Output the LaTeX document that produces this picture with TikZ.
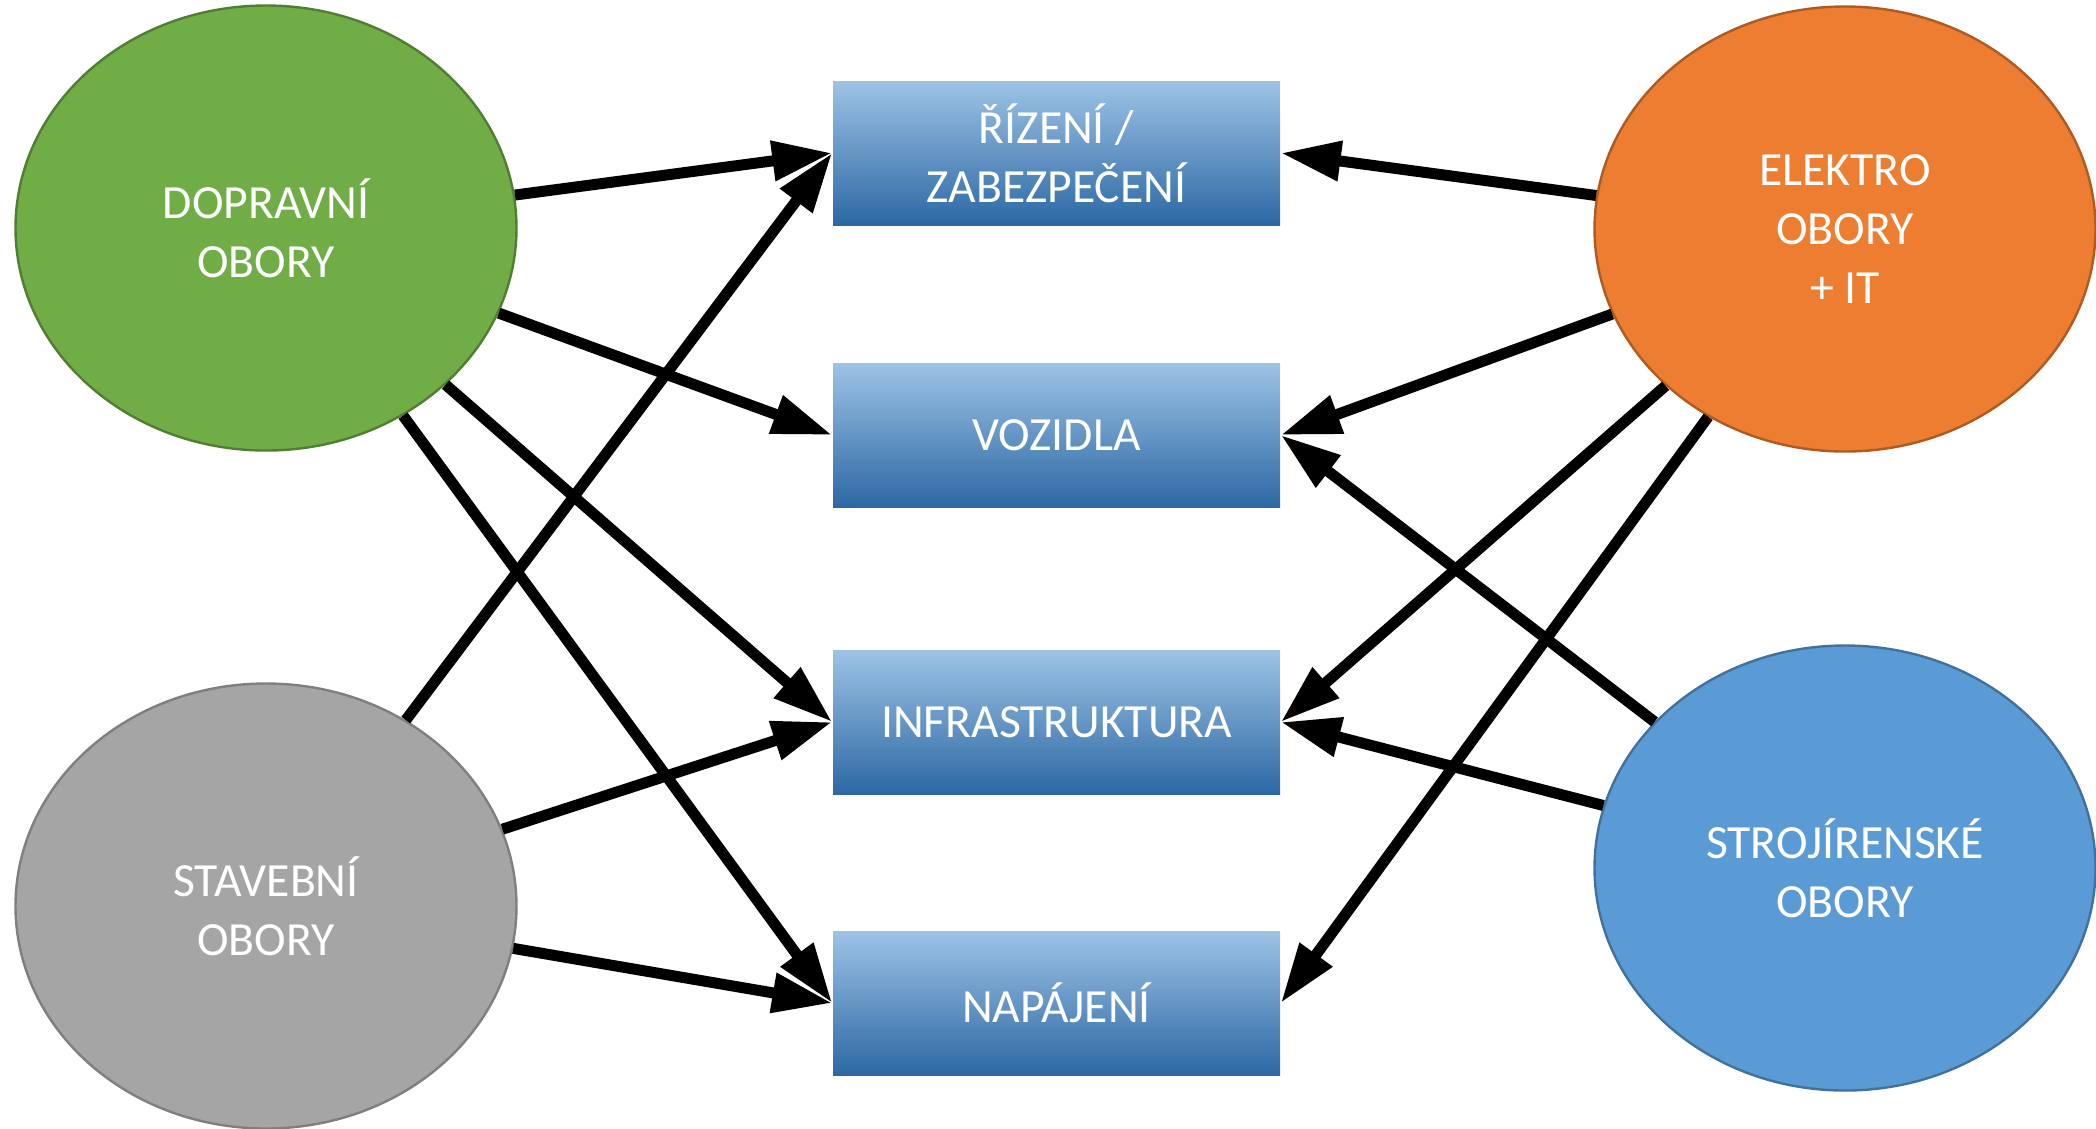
\documentclass[tikz,border=0pt]{standalone}
\usepackage{fontspec}
\setmainfont{Carlito}
\usetikzlibrary{shapes.geometric, arrows.meta}
\definecolor{greenfill}{HTML}{70AD47}
\definecolor{greenline}{HTML}{507E32}
\definecolor{grayfill}{HTML}{A5A5A5}
\definecolor{grayline}{HTML}{7F7F7F}
\definecolor{orangefill}{HTML}{ED7D31}
\definecolor{orangeline}{HTML}{AE5A21}
\definecolor{bluefill}{HTML}{5B9BD5}
\definecolor{blueline}{HTML}{41719C}
\definecolor{boxtop}{HTML}{9DC3E6}
\definecolor{boxmid}{HTML}{5B9BD5}
\definecolor{boxbot}{HTML}{2C68A3}
\begin{document}
\begin{tikzpicture}[x=0.25pt, y=-0.25pt,
		label text/.style={text=white, align=center, font=\fontsize{11.9}{14.8}\selectfont},
		field/.style={ellipse, label text, line width=0.6pt, inner sep=0pt, minimum width=125.25pt, minimum height=111.25pt},
		area/.style={rectangle, label text, inner sep=0pt, minimum width=111.75pt, minimum height=36pt, top color=boxtop, middle color=boxmid, bottom color=boxbot},
		link/.style={-{Triangle[length=15pt, width=9.5pt]}, line width=2.75pt}]
		\useasboundingbox (0, 0) rectangle (2096, 1128);
		% obory
		\node[field, fill=greenfill, draw=greenline] (doprava) at (266, 228) {DOPRAVNÍ\\OBORY};
		\node[field, fill=grayfill, draw=grayline] (stavba) at (266, 906) {STAVEBNÍ\\OBORY};
		\node[field, fill=orangefill, draw=orangeline] (elektro) at (1845, 229) {ELEKTRO\\OBORY\\+ IT};
		\node[field, fill=bluefill, draw=blueline] (stroje) at (1845, 868) {STROJÍRENSKÉ\\OBORY};
		% oblasti
		\node[area] (rizeni) at (1056.5, 153) {ŘÍZENÍ /\\ZABEZPEČENÍ};
		\node[area] (vozidla) at (1056.5, 435) {VOZIDLA};
		\node[area] (infra) at (1056.5, 722) {INFRASTRUKTURA};
		\node[area] (napajeni) at (1056.5, 1003) {NAPÁJENÍ};
		% vazby
		\foreach \to in {rizeni, vozidla, infra, napajeni}
			\draw[link] (doprava) -- (\to.west);
		\foreach \to in {rizeni, infra, napajeni}
			\draw[link] (stavba) -- (\to.west);
		\foreach \to in {rizeni, vozidla, infra, napajeni}
			\draw[link] (elektro) -- (\to.east);
		\foreach \to in {vozidla, infra}
			\draw[link] (stroje) -- (\to.east);
	\end{tikzpicture}
\end{document}
